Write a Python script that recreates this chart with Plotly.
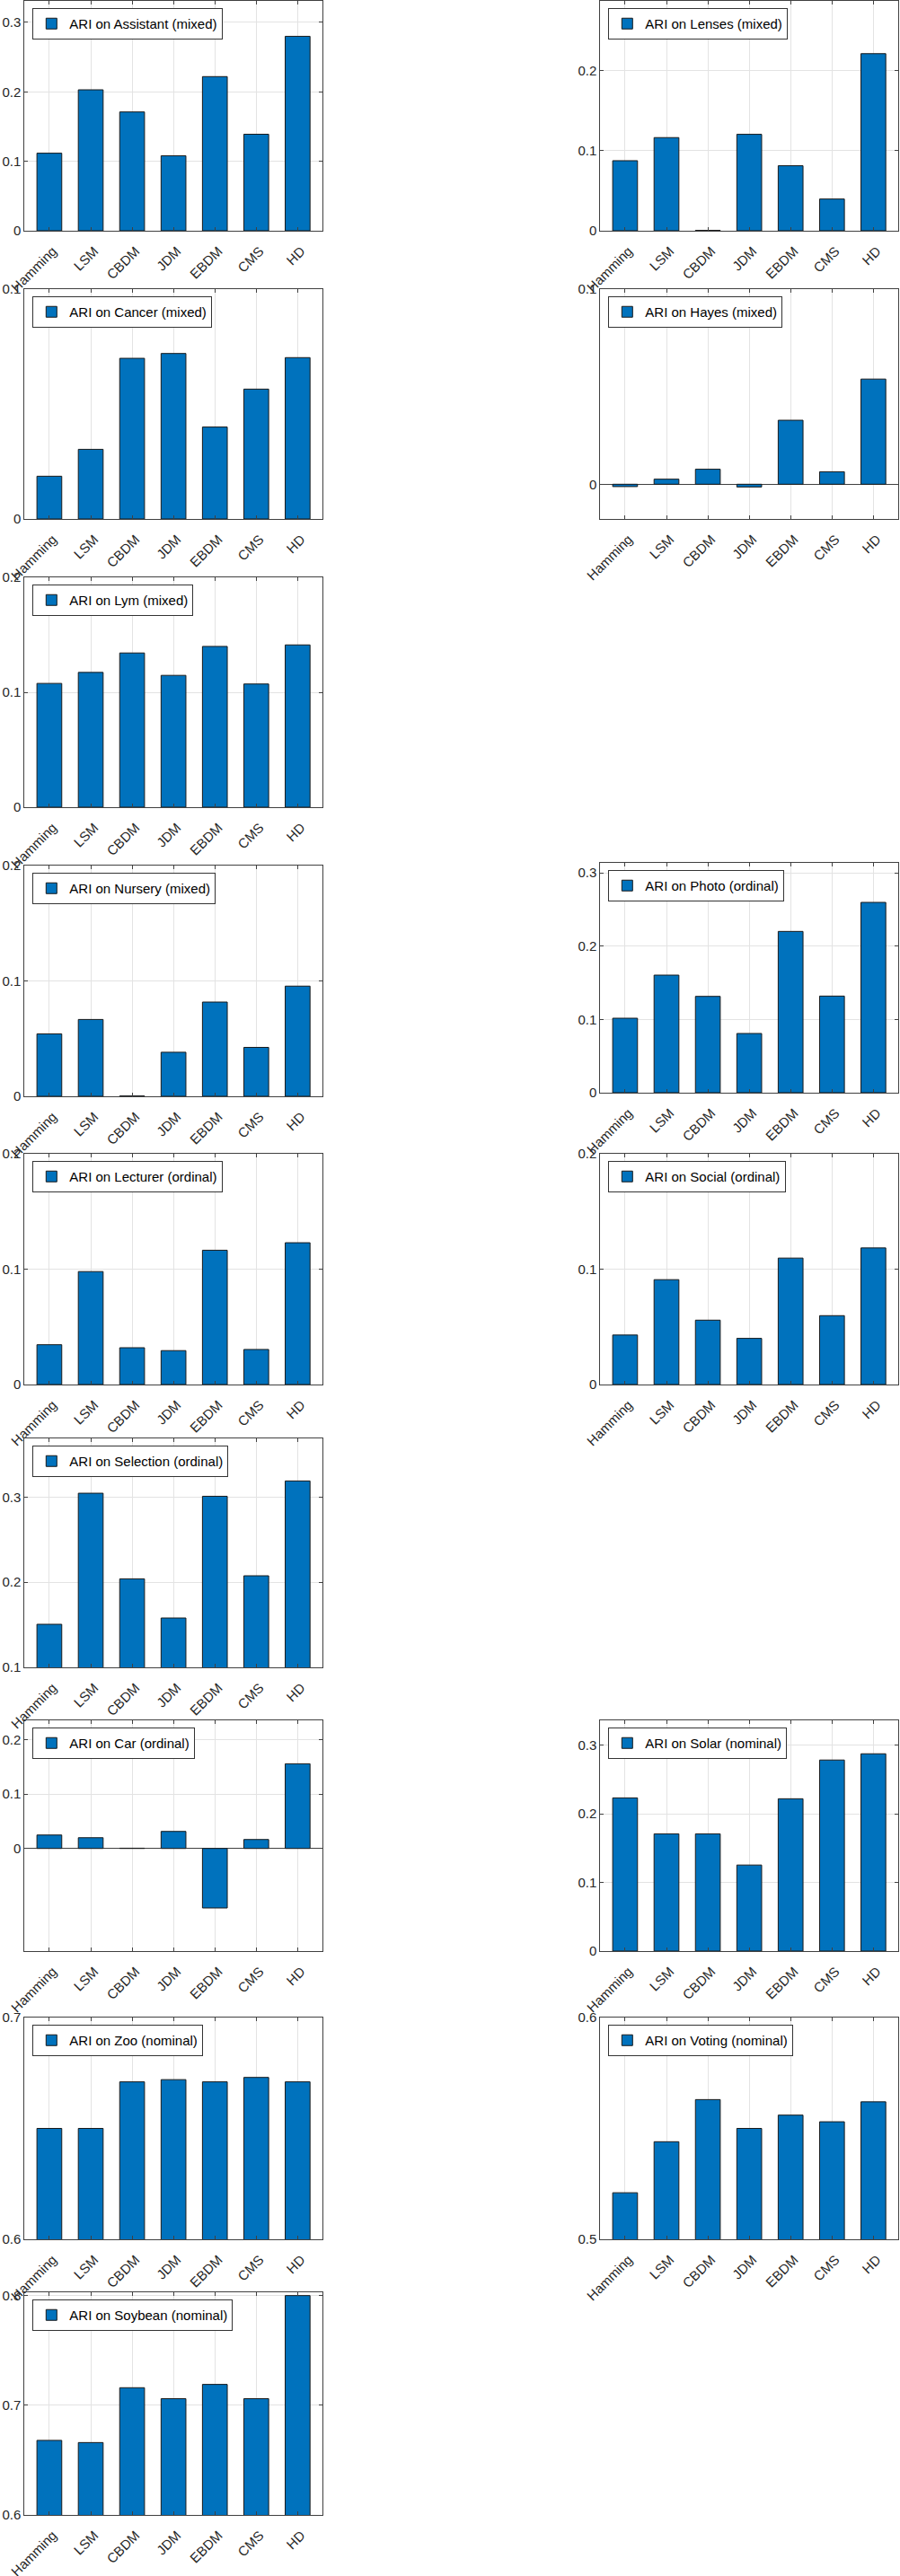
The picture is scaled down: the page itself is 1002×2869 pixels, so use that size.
import plotly.graph_objects as go

methods = ["Hamming", "LSM", "CBDM", "JDM", "EBDM", "CMS", "HD"]

# ARI values per dataset
assistant = [0.1117, 0.2030, 0.1711, 0.1080, 0.2220, 0.1390, 0.2800]
lenses    = [0.0874, 0.1162, 0.0005, 0.1203, 0.0811, 0.0396, 0.2209]
cancer    = [0.0186, 0.0303, 0.0699, 0.0720, 0.0400, 0.0565, 0.0702]
hayes     = [-0.0012, 0.0026, 0.0077, -0.0014, 0.0328, 0.0064, 0.0539]
lym       = [0.1077, 0.1173, 0.1342, 0.1147, 0.1399, 0.1072, 0.1412]
nursery   = [0.0541, 0.0666, 0.0003, 0.0382, 0.0817, 0.0424, 0.0955]
photo     = [0.1016, 0.1604, 0.1314, 0.0808, 0.2200, 0.1318, 0.2596]
lecturer  = [0.0345, 0.0979, 0.0319, 0.0294, 0.1164, 0.0304, 0.1229]
social    = [0.0429, 0.0909, 0.0558, 0.0400, 0.1096, 0.0597, 0.1184]
selection = [0.1506, 0.3046, 0.2040, 0.1580, 0.3010, 0.2076, 0.3190]
car       = [0.0248, 0.0198, 0.0005, 0.0314, -0.1096, 0.0165, 0.1560]
solar     = [0.2231, 0.1707, 0.1707, 0.1253, 0.2218, 0.2782, 0.2873]
zoo       = [0.6500, 0.6500, 0.6710, 0.6720, 0.6710, 0.6730, 0.6710]
voting    = [0.5210, 0.5440, 0.5630, 0.5500, 0.5560, 0.5530, 0.5620]
soybean   = [0.6680, 0.6660, 0.7160, 0.7060, 0.7190, 0.7060, 0.8000]

labels = ["ARI on Assistant (mixed)", "ARI on Lenses (mixed)", "ARI on Cancer (mixed)",
          "ARI on Hayes (mixed)", "ARI on Lym (mixed)", "ARI on Nursery (mixed)",
          "ARI on Photo (ordinal)", "ARI on Lecturer (ordinal)", "ARI on Social (ordinal)",
          "ARI on Selection (ordinal)", "ARI on Car (ordinal)", "ARI on Solar (nominal)",
          "ARI on Zoo (nominal)", "ARI on Voting (nominal)", "ARI on Soybean (nominal)"]
series = [assistant, lenses, cancer, hayes, lym, nursery, photo, lecturer, social,
          selection, car, solar, zoo, voting, soybean]

# layout: (column, top px, bottom px, y range, y ticks)
panels = [
    (0, 1, 257, [0, 0.331], [0, 0.1, 0.2, 0.3]),
    (1, 1, 257, [0, 0.2867], [0, 0.1, 0.2]),
    (0, 322, 578, [0, 0.1], [0, 0.1]),
    (1, 322, 578, [-0.0178, 0.1], [0, 0.1]),
    (0, 643, 899, [0, 0.2], [0, 0.1, 0.2]),
    (0, 964, 1221, [0, 0.2], [0, 0.1, 0.2]),
    (1, 961, 1217, [0, 0.3135], [0, 0.1, 0.2, 0.3]),
    (0, 1285, 1542, [0, 0.2], [0, 0.1, 0.2]),
    (1, 1285, 1542, [0, 0.2], [0, 0.1, 0.2]),
    (0, 1602, 1857, [0.1, 0.369], [0.1, 0.2, 0.3]),
    (0, 1916, 2173, [-0.189, 0.236], [0, 0.1, 0.2]),
    (1, 1916, 2173, [0, 0.336], [0, 0.1, 0.2, 0.3]),
    (0, 2247, 2494, [0.6, 0.7], [0.6, 0.7]),
    (1, 2247, 2494, [0.5, 0.6], [0.5, 0.6]),
    (0, 2553, 2801, [0.6, 0.803], [0.6, 0.7, 0.8]),
]

W, H = 1002, 2869
cols_px = [(27.3, 359.0), (668.3, 1000.0)]
FONT = "Liberation Sans, Arial, Helvetica, sans-serif"
BAR = "#0072BD"
AX = "#404040"
GRID = "#e3e3e3"
TXT = "#262626"

fig = go.Figure()
layout = dict(width=W, height=H, autosize=False,
              margin=dict(l=0, r=0, t=0, b=0, pad=0),
              paper_bgcolor="white", plot_bgcolor="white",
              font=dict(family=FONT, size=15, color=TXT),
              bargap=0.4)

for i, (vals, lab, p) in enumerate(zip(series, labels, panels)):
    col, top, bot, yr, yt = p
    n = i + 1
    sfx = "" if n == 1 else str(n)
    lg = "legend" if n == 1 else "legend" + str(n)
    fig.add_trace(go.Bar(
        x=methods, y=vals, name=lab, width=0.6,
        marker=dict(color=BAR, line=dict(color="#1a1a1a", width=1)),
        xaxis="x" + sfx, yaxis="y" + sfx, legend=lg, showlegend=True))
    x0, x1 = cols_px[col]
    xd = [x0 / W, x1 / W]
    yd = [1 - bot / H, 1 - top / H]
    layout["xaxis" + sfx] = dict(
        domain=xd, anchor="y" + sfx, type="category", automargin=False,
        range=[-0.6, 6.6], tickangle=-45,
        ticklabelstandoff=7, ticklabelshift=4,
        showgrid=True, gridcolor=GRID, gridwidth=1,
        showline=True, linecolor=AX, linewidth=1, mirror="ticks",
        ticks="inside", ticklen=4, tickcolor=AX,
        tickfont=dict(family=FONT, size=15, color=TXT), fixedrange=True)
    layout["yaxis" + sfx] = dict(
        domain=yd, anchor="x" + sfx, range=yr, automargin=False,
        tickmode="array", tickvals=yt, ticktext=[("%g" % v) for v in yt],
        showgrid=True, gridcolor=GRID, gridwidth=1,
        zeroline=True, zerolinecolor=AX, zerolinewidth=1,
        showline=True, linecolor=AX, linewidth=1, mirror="ticks",
        ticks="inside", ticklen=4, tickcolor=AX,
        tickfont=dict(family=FONT, size=15, color=TXT), fixedrange=True)
    layout[lg] = dict(
        x=(x0 + 9) / W, y=1 - (top + 8) / H, xanchor="left", yanchor="top",
        bgcolor="white", bordercolor="#333333", borderwidth=1,
        font=dict(family=FONT, size=15, color="#000000"),
        itemwidth=30, tracegroupgap=0)

fig.update_layout(**layout)
fig.write_html(
    "out.html",
    config={"displayModeBar": False, "staticPlot": True},
    post_script="document.body.style.margin='0';document.body.style.padding='0';"
                "document.documentElement.style.overflow='hidden';",
)
